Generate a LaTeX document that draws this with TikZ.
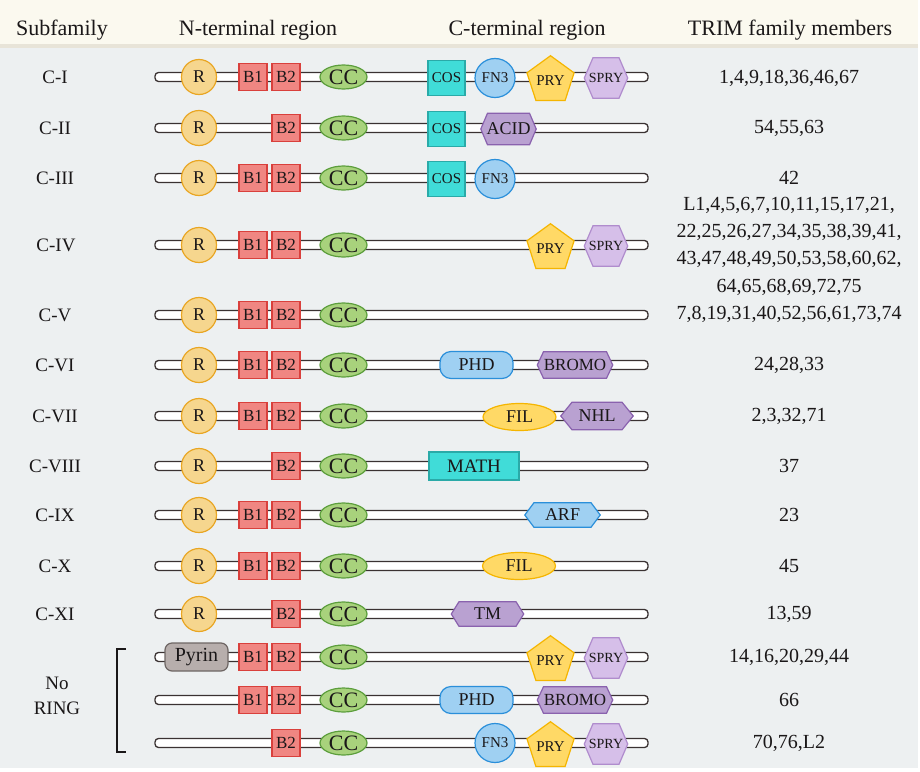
\documentclass[tikz,border=0pt]{standalone}
\usepackage{fontspec}
\setmainfont{Liberation Serif}
\usetikzlibrary{shapes.geometric,shapes.misc}
\definecolor{hdrbg}{HTML}{FBF9EF}
\definecolor{sepc}{HTML}{E8E4D8}
\definecolor{bodybg}{HTML}{EDF0F1}
\definecolor{ink}{HTML}{1A1718}
\definecolor{bbline}{HTML}{3A3232}
\definecolor{rfill}{HTML}{F6D68E}
\definecolor{rline}{HTML}{E9A623}
\definecolor{bfill}{HTML}{F08682}
\definecolor{bline}{HTML}{D9403C}
\definecolor{ccfill}{HTML}{A8D27C}
\definecolor{ccline}{HTML}{5C9E3C}
\definecolor{cosfill}{HTML}{40DCD8}
\definecolor{cosline}{HTML}{2AAAA8}
\definecolor{bluefill}{HTML}{9FD0F2}
\definecolor{blueline}{HTML}{2A8FDA}
\definecolor{pryfill}{HTML}{FFD966}
\definecolor{pryline}{HTML}{F5B500}
\definecolor{spryfill}{HTML}{D6BFE9}
\definecolor{spryline}{HTML}{B08CCD}
\definecolor{purfill}{HTML}{B9A1D1}
\definecolor{purline}{HTML}{8A62AE}
\definecolor{pyrfill}{HTML}{B7AEAC}
\definecolor{pyrline}{HTML}{6E6664}
\tikzset{
  fs/.style={font=\fontsize{#1}{#1}\selectfont},
  dom/.style={draw, line width=1.2pt, inner sep=0pt, text=ink},
  bb/.style={draw=bbline, fill=white, line width=1.3pt, rounded corners=3.5pt, minimum width=493pt, minimum height=9pt, inner sep=0pt},
  ring/.style={dom, circle, fill=rfill, draw=rline, minimum size=35pt, fs=18},
  bbox/.style={dom, rectangle, fill=bfill, draw=bline, minimum width=28pt, minimum height=27pt, fs=17},
  cc/.style={dom, ellipse, fill=ccfill, draw=ccline, minimum width=47pt, minimum height=24pt, fs=22},
  cos/.style={dom, rectangle, fill=cosfill, draw=cosline, minimum width=37pt, minimum height=35pt, fs=15},
  fnthree/.style={dom, ellipse, fill=bluefill, draw=blueline, minimum width=40pt, minimum height=39pt, fs=15},
  pry/.style={dom, regular polygon, regular polygon sides=5, fill=pryfill, draw=pryline, minimum size=45pt, fs=15},
  hexpic/.style n args={3}{rectangle, draw=none, fill=none, inner sep=0pt, text=ink,
    path picture={\path[fill=#1, draw=#2, line width=1.2pt, line join=miter]
      ([xshift=0.8pt]path picture bounding box.west)
      -- ([xshift=#3, yshift=-0.7pt]path picture bounding box.north west)
      -- ([xshift=-#3, yshift=-0.7pt]path picture bounding box.north east)
      -- ([xshift=-0.8pt]path picture bounding box.east)
      -- ([xshift=-#3, yshift=0.7pt]path picture bounding box.south east)
      -- ([xshift=#3, yshift=0.7pt]path picture bounding box.south west)
      -- cycle;}},
  spry/.style={hexpic={spryfill}{spryline}{9.5pt}, minimum width=45pt, minimum height=42pt, fs=14},
  hexa/.style={hexpic={purfill}{purline}{#1}, fs=18},
  phd/.style={dom, rectangle, rounded corners=11pt, fill=bluefill, draw=blueline, minimum width=73pt, minimum height=27pt, fs=18},
  fil/.style={dom, ellipse, fill=pryfill, draw=pryline, minimum width=73pt, minimum height=27pt, fs=18},
  math/.style={dom, rectangle, fill=cosfill, draw=cosline, minimum width=90pt, minimum height=28pt, fs=19},
  pyrin/.style={dom, rectangle, rounded corners=7pt, fill=pyrfill, draw=pyrline, minimum width=63pt, minimum height=28pt, fs=20},
  lab/.style={text=ink, fs=19, inner sep=0pt},
  mem/.style={text=ink, fs=20, inner sep=0pt, align=center},
  hdr/.style={text=ink, fs=22, inner sep=0pt},
}
\begin{document}
\begin{tikzpicture}[x=1pt,y=-1pt]
\useasboundingbox (0,0) rectangle (920,771);
\fill[white] (0,0) rectangle (920,771);
\fill[hdrbg] (0,0) rectangle (918,44);
\fill[sepc] (0,44) rectangle (918,48);
\fill[bodybg] (0,48) rectangle (918,768);
% headers
\node[hdr] (h1) at (62,30) {Subfamily};
\node[hdr] (h2) at (258,30) {N-terminal region};
\node[hdr] (h3) at (527,30) {C-terminal region};
\node[hdr] (h4) at (790,30) {TRIM family members};
% backbones
\foreach \n/\y in {a/77,b/128,c/178,d/245,e/315,f/365,g/416,h/466,i/515,j/566,k/614,l/657,m/700,n/743}
  \node[bb] (bb\n) at (401.5,\y) {};
% C-I
\node[ring] (ra) at (199,77) {R};
\node[bbox] (b1a) at (253,77) {B1};
\node[bbox] (b2a) at (286,77) {B2};
\node[cc] (cca) at (343.5,77) {CC};
\node[cos] (cosa) at (446.5,78) {COS};
\node[fnthree] (fna) at (495,78) {FN3};
\node[pry] (prya) at (550.5,80.5) {PRY};
\node[spry] (sprya) at (606,78) {SPRY};
% C-II
\node[ring] (rb) at (199,128) {R};
\node[bbox] (b2b) at (286,128) {B2};
\node[cc] (ccb) at (343.5,128) {CC};
\node[cos] (cosb) at (446.5,129) {COS};
\node[hexa=7.5pt, minimum width=57pt, minimum height=33pt] (acid) at (508.5,129) {ACID};
% C-III
\node[ring] (rc) at (199,178) {R};
\node[bbox] (b1c) at (253,178) {B1};
\node[bbox] (b2c) at (286,178) {B2};
\node[cc] (ccc) at (343.5,178) {CC};
\node[cos] (cosc) at (446.5,179) {COS};
\node[fnthree] (fnc) at (495,179) {FN3};
% C-IV
\node[ring] (rd) at (199,245) {R};
\node[bbox] (b1d) at (253,245) {B1};
\node[bbox] (b2d) at (286,245) {B2};
\node[cc] (ccd) at (343.5,245) {CC};
\node[pry] (pryd) at (550.5,248.5) {PRY};
\node[spry] (spryd) at (606,246) {SPRY};
% C-V
\node[ring] (re) at (199,315) {R};
\node[bbox] (b1e) at (253,315) {B1};
\node[bbox] (b2e) at (286,315) {B2};
\node[cc] (cce) at (343.5,315) {CC};
% C-VI
\node[ring] (rf) at (199,365) {R};
\node[bbox] (b1f) at (253,365) {B1};
\node[bbox] (b2f) at (286,365) {B2};
\node[cc] (ccf) at (343.5,365) {CC};
\node[phd] (phdf) at (476.5,365) {PHD};
\node[hexa=7pt, minimum width=77pt, minimum height=28pt, fs=17] (bromof) at (575,365) {BROMO};
% C-VII
\node[ring] (rg) at (199,416) {R};
\node[bbox] (b1g) at (253,416) {B1};
\node[bbox] (b2g) at (286,416) {B2};
\node[cc] (ccg) at (343.5,416) {CC};
\node[fil] (filg) at (519.5,417) {FIL};
\node[hexa=12pt, minimum width=74pt, minimum height=29pt] (nhl) at (597,416) {NHL};
% C-VIII
\node[ring] (rh) at (199,466) {R};
\node[bbox] (b2h) at (286,466) {B2};
\node[cc] (cch) at (343.5,466) {CC};
\node[math] (math) at (474,466) {MATH};
% C-IX
\node[ring] (ri) at (199,515) {R};
\node[bbox] (b1i) at (253,515) {B1};
\node[bbox] (b2i) at (286,515) {B2};
\node[cc] (cci) at (343.5,515) {CC};
\node[hexpic={bluefill}{blueline}{10pt}, minimum width=77pt, minimum height=26pt, fs=18] (arf) at (562.5,515) {ARF};
% C-X
\node[ring] (rj) at (199,566) {R};
\node[bbox] (b1j) at (253,566) {B1};
\node[bbox] (b2j) at (286,566) {B2};
\node[cc] (ccj) at (343.5,566) {CC};
\node[fil] (filj) at (519,566) {FIL};
% C-XI
\node[ring] (rk) at (199,614) {R};
\node[bbox] (b2k) at (286,614) {B2};
\node[cc] (cck) at (343.5,614) {CC};
\node[hexa=8.5pt, minimum width=74pt, minimum height=26pt] (tm) at (487.5,614) {TM};
% No RING 1
\node[pyrin] (pyr) at (196.5,657) {Pyrin};
\node[bbox] (b1l) at (253,657) {B1};
\node[bbox] (b2l) at (286,657) {B2};
\node[cc] (ccl) at (343.5,657) {CC};
\node[pry] (pryl) at (550.5,660.5) {PRY};
\node[spry] (spryl) at (606,658) {SPRY};
% No RING 2
\node[bbox] (b1m) at (253,700) {B1};
\node[bbox] (b2m) at (286,700) {B2};
\node[cc] (ccm) at (343.5,700) {CC};
\node[phd] (phdm) at (476.5,700) {PHD};
\node[hexa=7pt, minimum width=77pt, minimum height=28pt, fs=17] (bromom) at (575,700) {BROMO};
% No RING 3
\node[bbox] (b2n) at (286,743) {B2};
\node[cc] (ccn) at (343.5,743) {CC};
\node[fnthree] (fnn) at (495,743) {FN3};
\node[pry] (pryn) at (550.5,746.5) {PRY};
\node[spry] (spryn) at (606,744) {SPRY};
% subfamily labels
\node[lab] (la) at (55,77) {C-I};
\node[lab] (lb) at (55,128) {C-II};
\node[lab] (lc) at (55,178) {C-III};
\node[lab] (ld) at (56,245) {C-IV};
\node[lab] (le) at (55,315) {C-V};
\node[lab] (lf) at (55,365) {C-VI};
\node[lab] (lg) at (55,416) {C-VII};
\node[lab] (lh) at (55,466) {C-VIII};
\node[lab] (li) at (55,515) {C-IX};
\node[lab] (lj) at (55,566) {C-X};
\node[lab] (lk) at (55,614) {C-XI};
\node[lab, align=center, font=\fontsize{19}{25}\selectfont] (lnr) at (57,696) {No\\RING};
% bracket
\coordinate (bt) at (126,649);
\coordinate (bb) at (126,752);
\draw[ink, line width=1.3pt] (bt) -- ++(-9,0) |- (bb);
% members
\node[mem] (ma) at (789,78) {1,4,9,18,36,46,67};
\node[mem] (mb) at (789,128) {54,55,63};
\node[mem] (mc) at (789,178) {42};
\node[mem, font=\fontsize{20}{27.3}\selectfont] (md) at (789,246) {L1,4,5,6,7,10,11,15,17,21,\\22,25,26,27,34,35,38,39,41,\\43,47,48,49,50,53,58,60,62,\\64,65,68,69,72,75};
\node[mem] (me) at (789,314) {7,8,19,31,40,52,56,61,73,74};
\node[mem] (mf) at (789,365) {24,28,33};
\node[mem] (mg) at (789,416) {2,3,32,71};
\node[mem] (mh) at (789,466) {37};
\node[mem] (mi) at (789,515) {23};
\node[mem] (mj) at (789,566) {45};
\node[mem] (mk) at (789,614) {13,59};
\node[mem] (ml) at (789,657) {14,16,20,29,44};
\node[mem] (mm) at (789,700) {66};
\node[mem] (mn) at (789,743) {70,76,L2};
\end{tikzpicture}
\end{document}
